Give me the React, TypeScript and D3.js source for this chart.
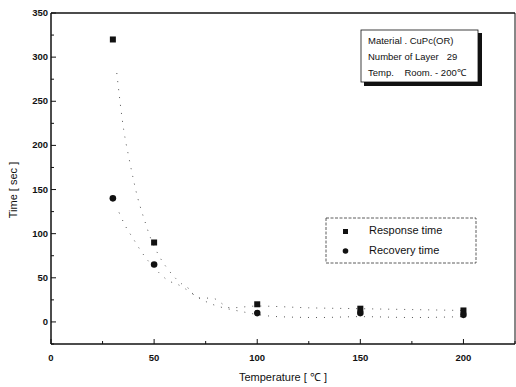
import React from "react";
import * as d3 from "d3";

const temps = [30, 50, 100, 150, 200];
const responseTime = [320, 90, 20, 15, 13];
const recoveryTime = [140, 65, 10, 10, 8];

const responseFitX = [31.9, 35.3, 37.7, 40, 42, 44, 45.8, 47.5, 52.6, 56.6, 64, 66.7, 71, 78, 87, 100, 125, 150, 175, 200];
const responseFitY = [282, 217, 187, 161, 141, 125, 112, 100, 74, 60, 42, 38, 27, 27, 16, 18, 16, 15, 14, 13];
const recoveryFitX = [33, 36, 39.7, 44, 51, 57.5, 61, 65.5, 73.5, 94, 110, 130, 150, 175, 200];
const recoveryFitY = [124, 109, 95, 79, 59, 46, 43, 37, 25, 11, 6, 5, 6, 5, 6];

const xTicks = [0, 50, 100, 150, 200];
const yTicks = [0, 50, 100, 150, 200, 250, 300, 350];
const xMinor = [25, 75, 125, 175, 225];
const yMinor = [-25, 25, 75, 125, 175, 225, 275, 325];

const infoLines = ["Material . CuPc(OR)", "Number of Layer   29", "Temp.    Room. - 200\u2103"];
const legendLabels = ["Response time", "Recovery time"];

export default function App() {
  const left = 51, right = 515, top = 13, bottom = 344;
  const x = d3.scaleLinear().domain([0, 225]).range([left, right]);
  const y = d3.scaleLinear().domain([-25, 350]).range([bottom, top]);
  const font = "Arial, 'Liberation Sans', sans-serif";
  const line = d3.line<[number, number]>().x(d => x(d[0])).y(d => y(d[1])).curve(d3.curveMonotoneX);
  const respFit = responseFitX.map((v, i) => [v, responseFitY[i]] as [number, number]);
  const recFit = recoveryFitX.map((v, i) => [v, recoveryFitY[i]] as [number, number]);

  return (
    <svg width={516} height={387} style={{ position: "absolute", left: 0, top: 0, background: "#fff" }} fontFamily={font}>
      <rect width={516} height={387} fill="#fff" />
      {/* fits */}
      <path d={line(respFit) || ""} fill="none" stroke="#555" strokeWidth={1} strokeDasharray="1,7" />
      <path d={line(recFit) || ""} fill="none" stroke="#555" strokeWidth={1} strokeDasharray="1,7" />
      {/* frame */}
      <line x1={left} x2={right} y1={top} y2={top} stroke="#111" strokeWidth={1.5} />
      <line x1={left} x2={right} y1={bottom} y2={bottom} stroke="#111" strokeWidth={1.5} />
      <line x1={left} x2={left} y1={top} y2={bottom} stroke="#111" strokeWidth={1.5} />
      <line x1={right} x2={right} y1={top} y2={bottom} stroke="#111" strokeWidth={1} />
      {xTicks.map(t => (
        <g key={"x" + t}>
          <line x1={x(t)} x2={x(t)} y1={bottom} y2={bottom - 5} stroke="#111" strokeWidth={1} />
          <text x={x(t)} y={bottom + 17} textAnchor="middle" fontSize={9.5} fontWeight="bold" fill="#111">{t}</text>
        </g>
      ))}
      {xMinor.map(t => (
        <line key={"xm" + t} x1={x(t)} x2={x(t)} y1={bottom} y2={bottom - 3} stroke="#111" strokeWidth={1} />
      ))}
      {yTicks.map(t => (
        <g key={"y" + t}>
          <line x1={left} x2={left + 5} y1={y(t)} y2={y(t)} stroke="#111" strokeWidth={1} />
          <text x={left - 3} y={y(t) + 3} textAnchor="end" fontSize={9.5} fontWeight="bold" fill="#111">{t}</text>
        </g>
      ))}
      {yMinor.map(t => (
        <line key={"ym" + t} x1={left} x2={left + 3} y1={y(t)} y2={y(t)} stroke="#111" strokeWidth={1} />
      ))}
      {/* axis titles */}
      <text x={283} y={381} textAnchor="middle" fontSize={11} fill="#111">Temperature [ {"\u2103"} ]</text>
      <text transform="translate(17,190) rotate(-90)" textAnchor="middle" fontSize={11} fill="#111">Time [ sec ]</text>
      {/* data markers */}
      {temps.map((t, i) => (
        <rect key={"r" + t} x={x(t) - 3} y={y(responseTime[i]) - 3} width={6} height={6} fill="#111" />
      ))}
      {temps.map((t, i) => (
        <circle key={"c" + t} cx={x(t)} cy={y(recoveryTime[i])} r={3.3} fill="#111" />
      ))}
      {/* info box */}
      <rect x={364} y={33} width={118} height={53} fill="#111" />
      <rect x={361} y={30} width={117} height={52} fill="#fff" stroke="#111" strokeWidth={0.8} />
      {infoLines.map((s, i) => (
        <text key={s} x={368} y={44 + i * 16} fontSize={9.5} fill="#111" style={{ whiteSpace: "pre" }}>{s}</text>
      ))}
      {/* legend */}
      <rect x={326} y={218} width={150} height={45} fill="#fff" stroke="#333" strokeWidth={0.8} strokeDasharray="3,1.5" />
      <rect x={343} y={229} width={5} height={5} fill="#111" />
      <circle cx={345.5} cy={251} r={2.8} fill="#111" />
      {legendLabels.map((s, i) => (
        <text key={s} x={369} y={234 + i * 20} fontSize={11} fill="#111">{s}</text>
      ))}
    </svg>
  );
}
